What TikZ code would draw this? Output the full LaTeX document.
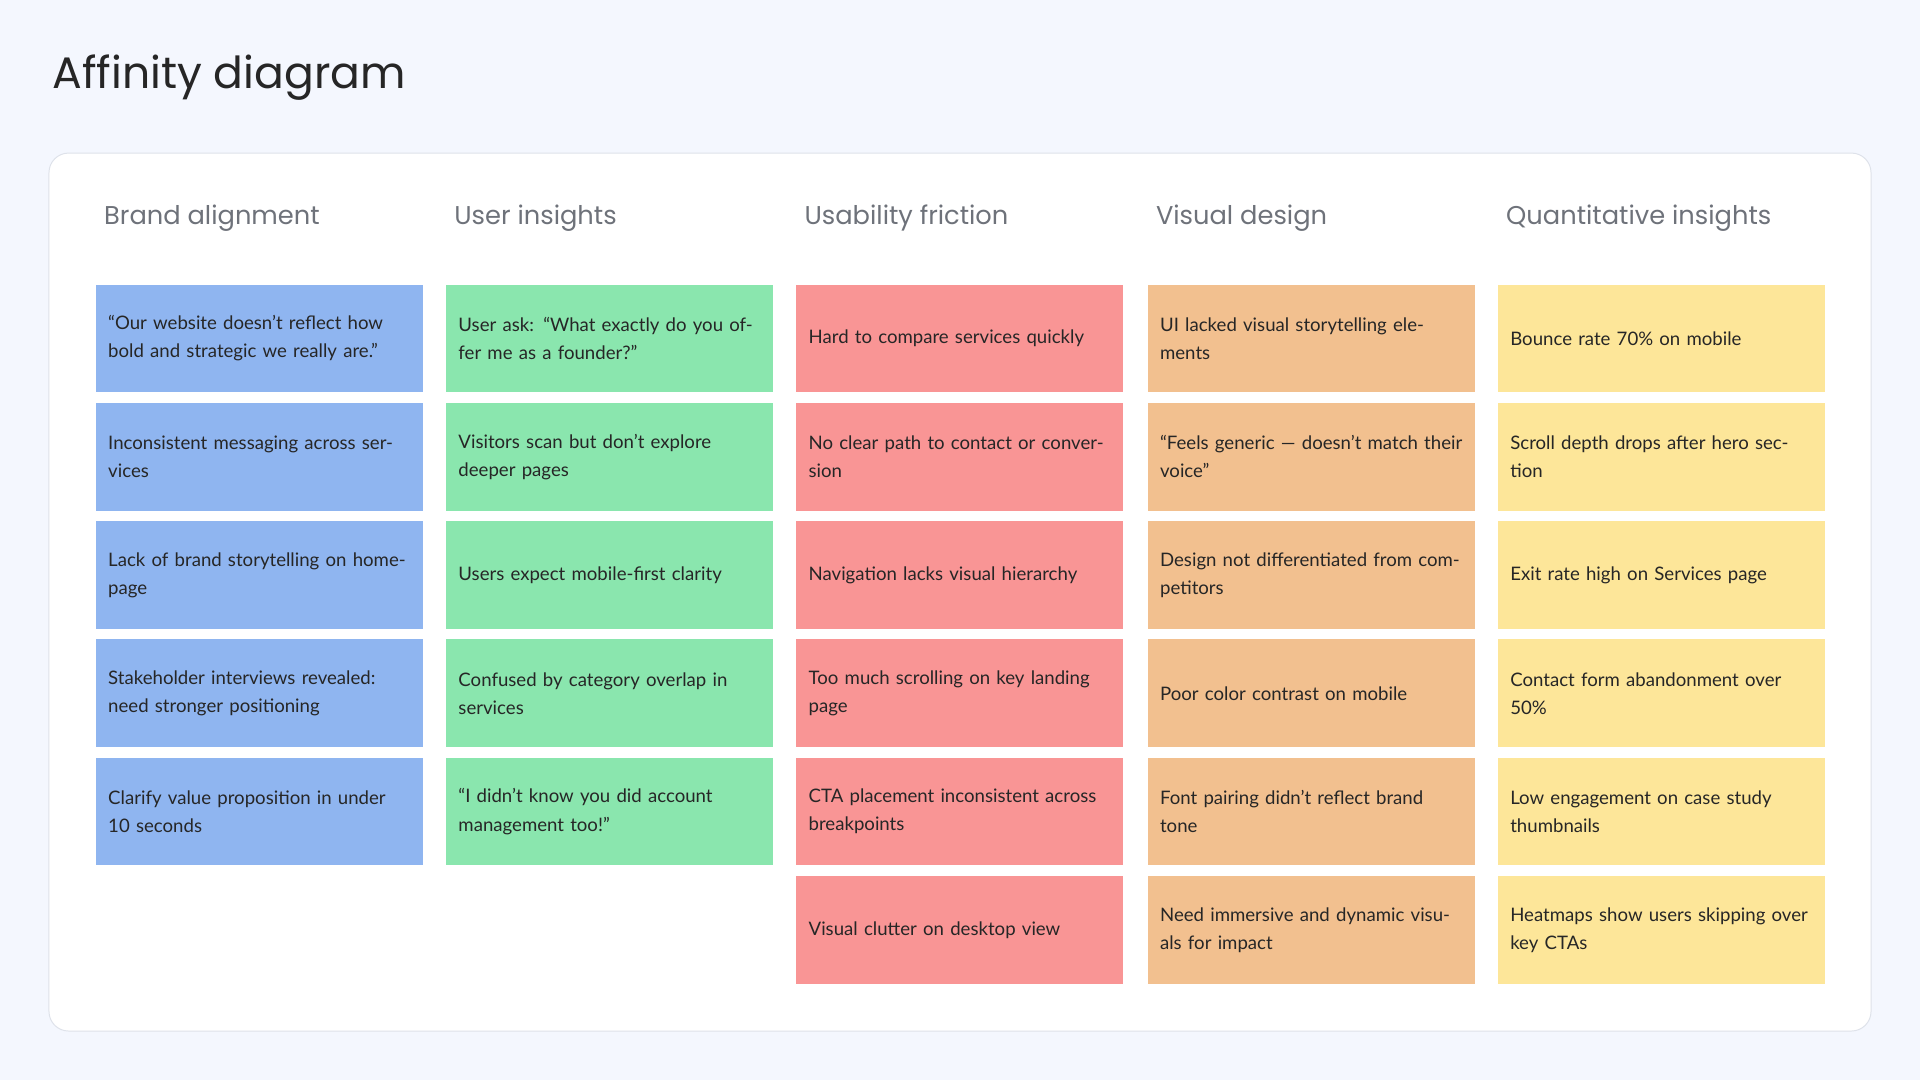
\documentclass[tikz,border=0pt]{standalone}
\usepackage{fontspec}
\setmainfont{Lato}
\newfontfamily\headfont{Poppins}
\usetikzlibrary{positioning}
\definecolor{pagebg}{RGB}{244,247,254}
\definecolor{panelline}{RGB}{222,226,234}
\definecolor{headgray}{RGB}{110,114,122}
\definecolor{cardblue}{RGB}{143,181,240}
\definecolor{cardgreen}{RGB}{138,230,174}
\definecolor{cardred}{RGB}{249,149,149}
\definecolor{cardorange}{RGB}{242,192,143}
\definecolor{cardyellow}{RGB}{253,230,153}
\begin{document}
\begin{tikzpicture}[x=0.5pt,y=-0.5pt,
  card/.style={anchor=north west, minimum height=44pt, text width=123.5pt,
    inner xsep=5pt, inner ysep=0pt, align=left,
    font=\fontsize{7.6}{11.5}\selectfont, text=black!85},
  colhead/.style={anchor=west, font=\headfont\fontsize{10.5}{13}\selectfont, text=headgray}]
% -- Page and panel --
\fill[pagebg] (0,0) rectangle (1568,882);
\filldraw[fill=white, draw=panelline, rounded corners=8pt] (40,125) rectangle (1528,842);
\node[anchor=west, font=\headfont\fontsize{18}{20}\selectfont, text=black!85] (title) at (36,63) {Affinity diagram};
% -- Column headers --
\foreach \cx/\name/\lbl in {78/hbrand/Brand alignment, 364/huser/User insights,
  650/husab/Usability friction, 937/hvis/Visual design, 1223/hquant/Quantitative insights} {
  \node[colhead] (\name) at (\cx,178) {\lbl};
}
% -- Brand alignment --
\foreach \txt [count=\i] in {{“Our website doesn’t reflect how bold and strategic we really are.”},
  {Inconsistent messaging across services}, {Lack of brand storytelling on homepage},
  {Stakeholder interviews revealed: need stronger positioning},
  {Clarify value proposition in under 10 seconds}} {
  \node[card, fill=cardblue] (brand\i) at (78,{232+96.6*(\i-1)}) {\txt};
}
% -- User insights --
\foreach \txt [count=\i] in {{User ask: “What exactly do you offer me as a founder?”},
  {Visitors scan but don’t explore deeper pages}, {Users expect mobile-first clarity},
  {Confused by category overlap in services},
  {“I didn’t know you did account management too!”}} {
  \node[card, fill=cardgreen] (user\i) at (364,{232+96.6*(\i-1)}) {\txt};
}
% -- Usability friction --
\foreach \txt [count=\i] in {{Hard to compare services quickly},
  {No clear path to contact or conversion}, {Navigation lacks visual hierarchy},
  {Too much scrolling on key landing page},
  {CTA placement inconsistent across breakpoints}, {Visual clutter on desktop view}} {
  \node[card, fill=cardred] (usab\i) at (650,{232+96.6*(\i-1)}) {\txt};
}
% -- Visual design --
\foreach \txt [count=\i] in {{UI lacked visual storytelling elements},
  {“Feels generic — doesn’t match their voice”}, {Design not differentiated from competitors},
  {Poor color contrast on mobile}, {Font pairing didn’t reflect brand tone},
  {Need immersive and dynamic visuals for impact}} {
  \node[card, fill=cardorange] (vis\i) at (937,{232+96.6*(\i-1)}) {\txt};
}
% -- Quantitative insights --
\foreach \txt [count=\i] in {{Bounce rate 70\% on mobile},
  {Scroll depth drops after hero section}, {Exit rate high on Services page},
  {Contact form abandonment over 50\%}, {Low engagement on case study thumbnails},
  {Heatmaps show users skipping over key CTAs}} {
  \node[card, fill=cardyellow] (quant\i) at (1223,{232+96.6*(\i-1)}) {\txt};
}
\end{tikzpicture}
\end{document}
